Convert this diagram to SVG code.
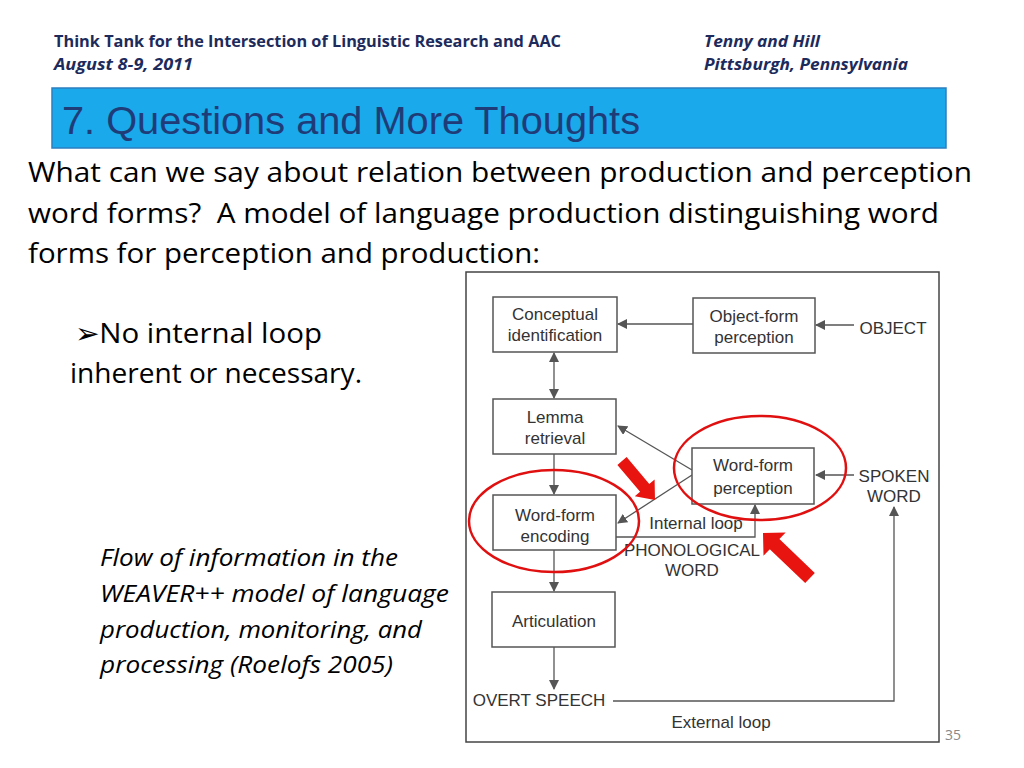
<svg xmlns="http://www.w3.org/2000/svg" width="1024" height="768" viewBox="0 0 1024 768">
<defs>
<style>
.hdr{font-family:"Open Sans","Noto Sans","Liberation Sans",sans-serif;font-weight:bold;font-size:16px;fill:#1d2b5c}
.body{font-family:"Open Sans","Noto Sans","Liberation Sans",sans-serif;font-size:28px;fill:#000}
.ital{font-family:"Open Sans","Noto Sans","Liberation Sans",sans-serif;font-style:italic;font-size:23px;fill:#000}
.box{fill:#fff;stroke:#555;stroke-width:1.5}
.dt{font-family:"Liberation Sans",Arial,sans-serif;font-size:17px;fill:#333;text-anchor:middle}
.ln{stroke:#555;stroke-width:1.3;fill:none}
.red{fill:none;stroke:#e01010;stroke-width:2.5}
</style>
<marker id="ah" viewBox="0 0 10 10" refX="9" refY="5" markerWidth="10" markerHeight="10" markerUnits="userSpaceOnUse" orient="auto-start-reverse">
<path d="M0,0 L10,5 L0,10 z" fill="#555"/>
</marker>
</defs>
<rect width="1024" height="768" fill="#fff"/>
<g id="header">
<text class="hdr" x="54" y="47" textLength="507" lengthAdjust="spacingAndGlyphs">Think Tank for the Intersection of Linguistic Research and AAC</text>
<text class="hdr" x="54" y="70" font-style="italic" textLength="139" lengthAdjust="spacingAndGlyphs">August 8-9, 2011</text>
<text class="hdr" x="704" y="47" font-style="italic" textLength="116" lengthAdjust="spacingAndGlyphs">Tenny and Hill</text>
<text class="hdr" x="704" y="70" font-style="italic" textLength="204" lengthAdjust="spacingAndGlyphs">Pittsburgh, Pennsylvania</text>
</g>
<g id="title">
<rect x="52" y="88" width="894" height="60" fill="#1aa9ea" stroke="#2b7fc0" stroke-width="1.5"/>
<text x="62" y="134" font-family="Liberation Sans,Arial,sans-serif" font-size="38" fill="#1f3c78" textLength="578" lengthAdjust="spacingAndGlyphs">7. Questions and More Thoughts</text>
</g>
<g id="body">
<text class="body" x="28" y="182" textLength="944" lengthAdjust="spacingAndGlyphs">What can we say about relation between production and perception</text>
<text class="body" x="28" y="223" textLength="911" lengthAdjust="spacingAndGlyphs">word forms?&#160; A model of language production distinguishing word</text>
<text class="body" x="28" y="263" textLength="512" lengthAdjust="spacingAndGlyphs">forms for perception and production:</text>
<text class="body" x="75" y="343" textLength="247" lengthAdjust="spacingAndGlyphs">➢No internal loop</text>
<text class="body" x="70" y="383" textLength="292" lengthAdjust="spacingAndGlyphs">inherent or necessary.</text>
<text class="ital" x="100" y="566" textLength="298" lengthAdjust="spacingAndGlyphs">Flow of information in the</text>
<text class="ital" x="100" y="602" textLength="349" lengthAdjust="spacingAndGlyphs">WEAVER++ model of language</text>
<text class="ital" x="100" y="638" textLength="322" lengthAdjust="spacingAndGlyphs">production, monitoring, and</text>
<text class="ital" x="100" y="673" textLength="293" lengthAdjust="spacingAndGlyphs">processing (Roelofs 2005)</text>
<text x="945" y="740" font-family="Open Sans,Noto Sans,sans-serif" font-size="14" fill="#888">35</text>
</g>
<rect id="frame" x="466" y="272" width="473" height="470" fill="#fff" stroke="#444" stroke-width="1.5"/>
<g id="connectors">
<line class="ln" x1="854" y1="325" x2="816" y2="325" marker-end="url(#ah)"/>
<line class="ln" x1="693" y1="324" x2="618" y2="324" marker-end="url(#ah)"/>
<line class="ln" x1="554" y1="353" x2="554" y2="398" marker-start="url(#ah)" marker-end="url(#ah)"/>
<line class="ln" x1="554" y1="454" x2="554" y2="494" marker-end="url(#ah)"/>
<line class="ln" x1="692" y1="470" x2="618" y2="426" marker-end="url(#ah)"/>
<line class="ln" x1="692" y1="475" x2="618" y2="523" marker-end="url(#ah)"/>
<polyline class="ln" points="616,537 755,537 755,505" marker-end="url(#ah)"/>
<line class="ln" x1="854" y1="475" x2="816" y2="475" marker-end="url(#ah)"/>
<line class="ln" x1="554" y1="550" x2="554" y2="591" marker-end="url(#ah)"/>
<line class="ln" x1="554" y1="647" x2="554" y2="689" marker-end="url(#ah)"/>
<polyline class="ln" points="613,701 894,701 894,507" marker-end="url(#ah)"/>
</g>
<g id="conceptual"><rect class="box" x="493" y="297" width="124" height="55"/><text class="dt" x="555" y="320">Conceptual</text><text class="dt" x="555" y="341">identification</text></g>
<g id="objectform"><rect class="box" x="693" y="298" width="122" height="55"/><text class="dt" x="754" y="322">Object-form</text><text class="dt" x="754" y="343">perception</text></g>
<g id="object"><text class="dt" x="893" y="334">OBJECT</text></g>
<g id="lemma"><rect class="box" x="493" y="399" width="123" height="55"/><text class="dt" x="555" y="423">Lemma</text><text class="dt" x="555" y="444">retrieval</text></g>
<g id="wfperception"><rect class="box" x="692" y="448" width="122" height="56"/><text class="dt" x="753" y="471">Word-form</text><text class="dt" x="753" y="494">perception</text></g>
<g id="spoken"><text class="dt" x="894" y="482">SPOKEN</text><text class="dt" x="894" y="502">WORD</text></g>
<g id="wfencoding"><rect class="box" x="493" y="495" width="123" height="55"/><text class="dt" x="555" y="521">Word-form</text><text class="dt" x="555" y="542">encoding</text></g>
<g id="internal"><text class="dt" x="696" y="529">Internal loop</text></g>
<g id="phonword"><text class="dt" x="692" y="556">PHONOLOGICAL</text><text class="dt" x="692" y="576">WORD</text></g>
<g id="articulation"><rect class="box" x="492" y="592" width="123" height="55"/><text class="dt" x="554" y="627">Articulation</text></g>
<g id="overt"><text class="dt" x="539" y="706">OVERT SPEECH</text></g>
<g id="external"><text class="dt" x="721" y="728">External loop</text></g>
<g id="highlights">
<ellipse class="red" cx="554" cy="521" rx="85" ry="51"/>
<ellipse class="red" cx="760" cy="468" rx="86" ry="52"/>
<polygon fill="#e8140f" points="626.6,457.1 649.3,483.9 654.6,479.4 655,500 634.8,496.2 640.1,491.7 617.4,464.9"/>
<polygon fill="#e8140f" points="814.8,572.9 779.4,539 785.7,532.5 763,533 763.5,555.7 769.8,549.2 805.2,583.1"/>
</g>
</svg>
